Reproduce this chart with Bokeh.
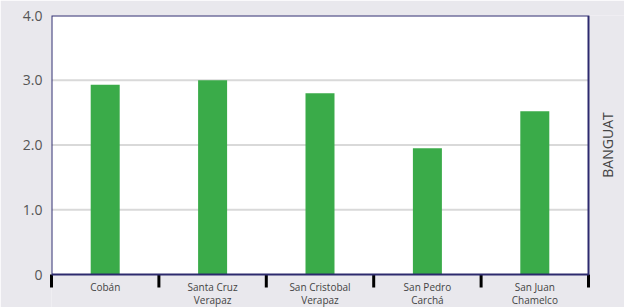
import math
from bokeh.plotting import figure
from bokeh.models import Range1d, FixedTicker, LinearAxis, BoxAnnotation
from bokeh.core.properties import value
from bokeh.embed import file_html
from bokeh.resources import INLINE

categories = ["Cobán", "Santa Cruz\nVerapaz", "San Cristobal\nVerapaz", "San Pedro\nCarchá", "San Juan\nChamelco"]
values = [2.93, 3.0, 2.80, 1.95, 2.52]
y_ticks = [0, 1, 2, 3, 4]
y_tick_labels = ["0", "1.0", "2.0", "3.0", "4.0"]
grid_values = [1, 2, 3]
side_label = "BANGUAT"

NAVY = "#2d2a6e"
BG = "#e9e8ed"
FONT = "Open Sans"

# layout in pixels
W, H = 624, 307
LEFT, TOP = 51, 15
PLOT_W, PLOT_H = 537, 259

n = len(categories)
ymax = y_ticks[-1]
frame_w = W - LEFT
frame_h = H - TOP
x_end = n * frame_w / PLOT_W
y_start = -ymax * (frame_h - PLOT_H) / PLOT_H

p = figure(width=W, height=H, output_backend="svg", toolbar_location=None,
           x_range=Range1d(0, x_end), y_range=Range1d(y_start, ymax),
           x_axis_location=None, y_axis_location=None,
           min_border_left=LEFT, min_border_right=0, min_border_top=TOP, min_border_bottom=0)
p.background_fill_color = BG
p.border_fill_color = BG
p.outline_line_color = None
p.xgrid.visible = False
p.ygrid.visible = False

# white plotting area
p.add_layout(BoxAnnotation(left=0, right=n, bottom=0, top=ymax, fill_color="white",
                           fill_alpha=1, line_color=None, level="underlay"))

# horizontal grid lines
p.segment(x0=[0] * len(grid_values), x1=[n] * len(grid_values), y0=grid_values, y1=grid_values,
          line_color="#d9d9d9", line_width=2)

xs = [i + 0.5 for i in range(n)]
p.vbar(x=xs, top=values, width=0.27, bottom=0, color="#3aab49", line_color=None)

# border of plotting area
p.add_layout(BoxAnnotation(left=0, right=n, bottom=0, top=ymax, fill_alpha=0,
                           line_color=NAVY, line_alpha=1, line_width=2, level="overlay"))

# category separator ticks
p.ray(x=list(range(n + 1)), y=[0] * (n + 1), length=13, length_units="screen",
      angle=-math.pi / 2, line_color="black", line_width=3, level="overlay")

# category labels
p.text(x=xs, y=[0] * n, text=categories, y_offset=5, text_align="center",
       text_baseline="top", text_font=value(FONT), text_font_size="10px",
       text_color="#444444", text_line_height=0.95)

# right side label
p.text(x=[n], y=[ymax / 2], text=[side_label], x_offset=19, angle=math.pi / 2,
       text_align="center", text_baseline="middle", text_font=value(FONT),
       text_font_size="14px", text_color="#444444")

# y axis
ya = LinearAxis(ticker=FixedTicker(ticks=y_ticks, minor_ticks=[]), bounds=(0, ymax))
ya.major_label_overrides = {t: l for t, l in zip(y_ticks, y_tick_labels)}
ya.major_tick_out = 0
ya.major_tick_in = 0
ya.minor_tick_out = 0
ya.axis_line_color = None
ya.major_label_text_font = FONT
ya.major_label_text_font_size = "14px"
ya.major_label_text_color = "#555555"
ya.major_label_standoff = 9
p.add_layout(ya, "left")

open("out.html", "w").write(file_html(p, INLINE))
